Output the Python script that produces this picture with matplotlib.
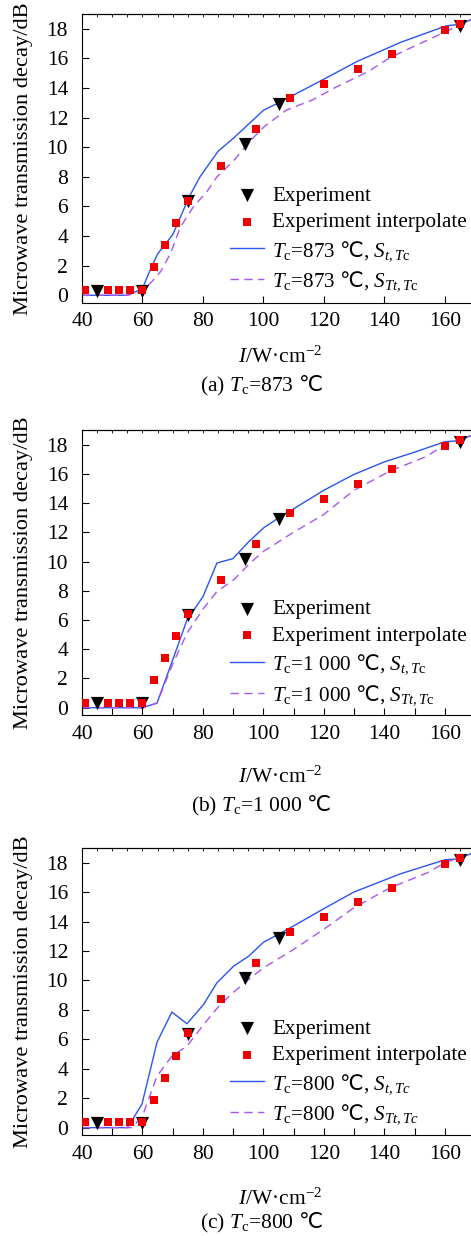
import matplotlib
matplotlib.use('Agg')
import matplotlib.pyplot as plt
import numpy as np

plt.rcParams['font.family'] = ['Liberation Serif', 'DejaVu Serif', 'DejaVu Sans']
plt.rcParams['mathtext.fontset'] = 'custom'
plt.rcParams['mathtext.rm'] = 'Liberation Serif'
plt.rcParams['mathtext.it'] = 'Liberation Serif:italic'
plt.rcParams['mathtext.sf'] = 'DejaVu Sans'
plt.rcParams['font.size'] = 15

# ---- data ----
exp_x = [45, 60, 75, 94, 105, 165]
exp_y = [0.3, 0.3, 6.35, 10.2, 12.9, 18.2]
interp_x = [41, 48.5, 52.3, 56, 60, 63.7, 67.3, 71.2, 75, 86, 97.4, 108.7, 120, 131.3, 142.5, 160, 165]
interp_y = [0.35, 0.35, 0.35, 0.35, 0.35, 1.9, 3.38, 4.9, 6.4, 8.75, 11.2, 13.3, 14.3, 15.3, 16.3, 17.9, 18.35]

a_st_x = [40, 55, 60, 62, 65, 70, 73, 75.3, 79, 85, 90, 100, 105, 120, 131, 145.5, 160.4, 164.8, 169]
a_st_y = [0, 0, 0.45, 1.46, 2.8, 4.1, 5.5, 6.6, 8.0, 9.73, 10.6, 12.5, 13.0, 14.6, 15.8, 17.1, 18.2, 18.3, 18.65]
a_stt_x = [40, 55, 60, 63, 66, 69.2, 72.5, 76.9, 81.3, 84.6, 90.2, 95.9, 100.3, 107.5, 116.2, 123.4, 134.5, 142.2, 156.5, 169]
a_stt_y = [0, 0, 0.3, 0.9, 1.6, 2.8, 4.6, 6.0, 7.0, 8.0, 9.1, 10.5, 11.4, 12.5, 13.2, 14.0, 15.1, 16.1, 17.45, 18.65]

b_st_x = [40, 60, 64.8, 69.7, 74.7, 80, 84.6, 89.9, 95.1, 100, 105.5, 109.9, 115.4, 119.8, 129.8, 139.7, 149.6, 160, 164.4, 169]
b_st_y = [0, 0, 0.32, 3.1, 6.0, 7.6, 9.9, 10.2, 11.35, 12.3, 13.05, 13.6, 14.3, 14.86, 15.95, 16.8, 17.46, 18.2, 18.26, 18.65]
b_stt_x = [40, 60, 64.8, 69.7, 74.7, 80.2, 84.6, 90.1, 95.6, 100, 109.9, 119.8, 129.8, 141.9, 154, 160, 169]
b_stt_y = [0, 0, 0.3, 2.85, 5.1, 6.8, 7.95, 8.74, 9.9, 10.7, 12.0, 13.2, 14.86, 16.2, 17.2, 18.0, 18.65]

c_st_x = [40, 55, 59.8, 64.8, 69.7, 74.7, 80.2, 84.6, 90.1, 95.1, 100, 105.5, 109.9, 119.8, 129.8, 145.2, 160, 164.4, 169]
c_st_y = [0, 0, 1.58, 5.8, 7.85, 7.06, 8.37, 9.84, 10.97, 11.65, 12.6, 13.2, 13.7, 14.86, 16.0, 17.24, 18.2, 18.26, 18.65]
c_stt_x = [40, 56.5, 60, 64.8, 69.7, 74.7, 80.2, 85.7, 90.1, 95.1, 100, 109.9, 119.8, 129.8, 141.9, 154, 160, 169]
c_stt_y = [0, 0, 0.8, 3.5, 4.86, 5.54, 7.0, 8.37, 9.2, 10.07, 10.86, 12.1, 13.46, 14.93, 16.3, 17.3, 18.0, 18.65]

x_ticks = [40, 60, 80, 100, 120, 140, 160]
y_ticks = [0, 2, 4, 6, 8, 10, 12, 14, 16, 18]

DEG = r'$\mathsf{℃}$'
panels = [
    dict(st=(a_st_x, a_st_y), stt=(a_stt_x, a_stt_y),
         lab1=r'$T_\mathrm{c}$=873 ' + DEG + r', $S_{t,T\mathrm{c}}$',
         lab2=r'$T_\mathrm{c}$=873 ' + DEG + r', $S_{Tt,T\mathrm{c}}$',
         cap=r'(a) $T_\mathrm{c}$=873 ' + DEG, minor=False),
    dict(st=(b_st_x, b_st_y), stt=(b_stt_x, b_stt_y),
         lab1=r'$T_\mathrm{c}$=1 000 ' + DEG + r', $S_{t,T\mathrm{c}}$',
         lab2=r'$T_\mathrm{c}$=1 000 ' + DEG + r', $S_{Tt,T\mathrm{c}}$',
         cap=r'(b) $T_\mathrm{c}$=1 000 ' + DEG, minor=True),
    dict(st=(c_st_x, c_st_y), stt=(c_stt_x, c_stt_y),
         lab1=r'$T_\mathrm{c}$=800 ' + DEG + r', $S_{t,Tc}$',
         lab2=r'$T_\mathrm{c}$=800 ' + DEG + r', $S_{Tt,Tc}$',
         cap=r'(c) $T_\mathrm{c}$=800 ' + DEG, minor=True),
]

H = 1236.0
W = 471.0
geom = [(14, 302.7, 357, 386), (430, 715, 777, 806), (848, 1135, 1199, 1223)]

fig = plt.figure(figsize=(W / 100, H / 100), dpi=100)
left = 82 / W
for p, (top, bot, xl_y, cap_y) in zip(panels, geom):
    ax = fig.add_axes([left, 1 - bot / H, 1 - left, (bot - top) / H])
    ax.plot(p['st'][0], p['st'][1], color='#2a55f0', lw=1.0, zorder=2, label=p['lab1'])
    ax.plot(p['stt'][0], p['stt'][1], color='#a855f7', lw=1.0, ls=(0, (6, 4)), zorder=2, label=p['lab2'])
    ax.scatter(exp_x, exp_y, marker='v', s=90, color='black', zorder=3, label='Experiment', linewidths=0)
    ax.scatter(interp_x, interp_y, marker='s', s=38, color='#f00000', zorder=4, label='Experiment interpolate', linewidths=0)
    ax.set_xlim(40, 168.6)
    ax.set_ylim(-0.5, 19)
    ax.set_xticks(x_ticks)
    ax.set_yticks(y_ticks)
    if p['minor']:
        ax.set_xticks(np.arange(50, 170, 20), minor=True)
    ax.tick_params(axis='both', which='both', direction='in', length=5, width=0.8, labelsize=15.5)
    ax.tick_params(axis='x', pad=7)
    ax.tick_params(axis='y', pad=10)
    ax.spines['right'].set_visible(False)
    sec = ax.secondary_xaxis('top')
    sec.set_xticks(np.arange(40, 170, 5))
    sec.tick_params(direction='in', length=2, width=0.6, labeltop=False)
    sec.set_xticklabels([])
    ax.set_ylabel('Microwave transmission decay/dB', fontsize=16.2)
    ax.yaxis.set_label_coords(-(82 - 33) / (W - 82), 0.5)
    h, l = ax.get_legend_handles_labels()
    order = [2, 3, 0, 1]
    ax.legend([h[i] for i in order], [l[i] for i in order], loc='upper left',
              bbox_to_anchor=(0.38, 0.405), frameon=False, borderaxespad=0, borderpad=0,
              handlelength=1.6, handletextpad=0.4, labelspacing=0.32, fontsize=15.2)
    fig.text(280 / W, 1 - xl_y / H, r'$I$/W·cm$^{-2}$', ha='center', va='center', fontsize=15.5)
    fig.text(261 / W, 1 - cap_y / H, p['cap'], ha='center', va='center', fontsize=15.5)

fig.savefig('out.png', dpi=100)
